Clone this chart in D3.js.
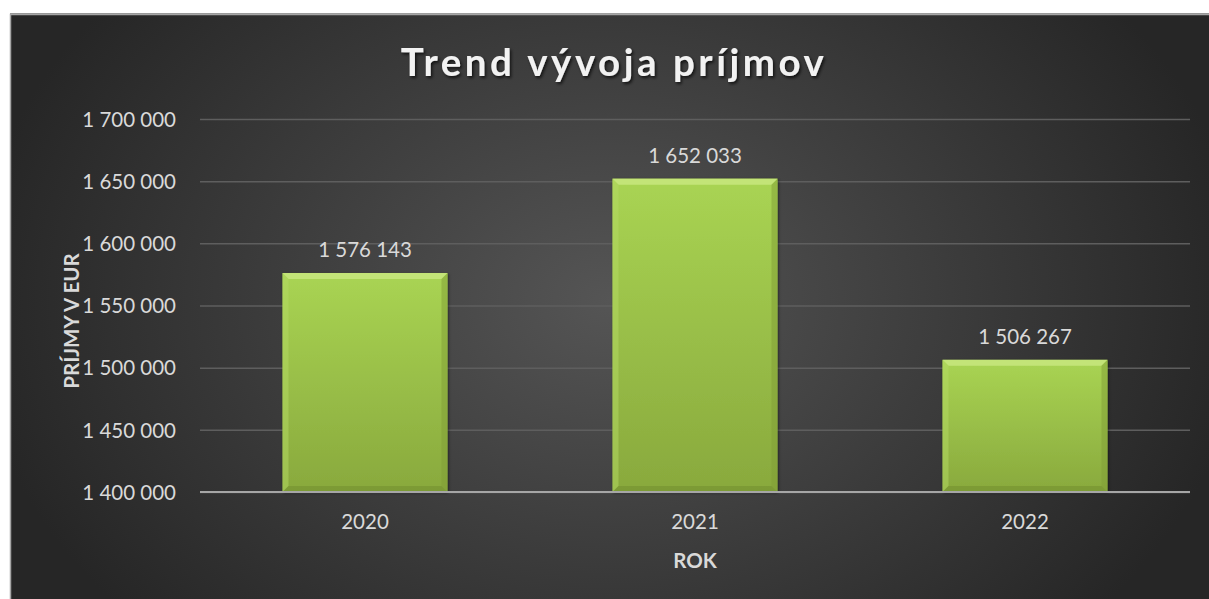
<!DOCTYPE html>
<html><head><meta charset="utf-8">
<script src="https://cdn.jsdelivr.net/npm/d3@7"></script>
<style>
html,body{margin:0;padding:0;background:#fff;}
svg{display:block;}
</style></head>
<body>
<svg id="chart" width="1209" height="599"></svg>
<script>
const categories = ["2020", "2021", "2022"];
const values = [1576143, 1652033, 1506267];
const yTicks = [1400000, 1450000, 1500000, 1550000, 1600000, 1650000, 1700000];
const title = "Trend vývoja príjmov";
const xTitle = "ROK";
const yTitle = "PRÍJMY V EUR";

const W = 1209, H = 599;
const svg = d3.select("#chart");
const defs = svg.append("defs");

const bg = defs.append("radialGradient").attr("id","bg")
  .attr("gradientUnits","userSpaceOnUse").attr("cx",610).attr("cy",300).attr("r",640)
  .attr("gradientTransform","translate(610,300) scale(1,0.75) translate(-610,-300)");
bg.append("stop").attr("offset","0").attr("stop-color","#555555");
bg.append("stop").attr("offset","1").attr("stop-color","#262626");

const bar = defs.append("linearGradient").attr("id","bar").attr("x1",0).attr("x2",0).attr("y1",0).attr("y2",1);
bar.append("stop").attr("offset","0").attr("stop-color","#a9d453");
bar.append("stop").attr("offset","1").attr("stop-color","#89a93d");

const sh = defs.append("filter").attr("id","tshadow").attr("x","-10%").attr("y","-30%").attr("width","120%").attr("height","160%");
sh.append("feDropShadow").attr("dx",1.5).attr("dy",2).attr("stdDeviation",1.5).attr("flood-color","#000").attr("flood-opacity",0.7);

const bsh = defs.append("filter").attr("id","bshadow").attr("x","-10%").attr("y","-10%").attr("width","120%").attr("height","120%");
bsh.append("feDropShadow").attr("dx",1).attr("dy",1).attr("stdDeviation",1.5).attr("flood-color","#000").attr("flood-opacity",0.5);

// frame
svg.append("rect").attr("x",10).attr("y",13.5).attr("width",W-10).attr("height",H-13.5)
  .attr("fill","url(#bg)");
svg.append("path").attr("d",`M10.5,${H} V14.5 H${W}`).attr("fill","none").attr("stroke","#a6a6a6").attr("stroke-width",1.5);

const m = {left:200, right:1190, top:119, bottom:492};
const x = d3.scaleBand().domain(categories).range([m.left, m.right]).paddingInner(0.5).paddingOuter(0.25);
const y = d3.scaleLinear().domain([1400000, 1700000]).range([m.bottom, m.top]);

const fmt = v => d3.format(",")(v).replace(/,/g, " ");
const font = "Lato, 'Open Sans', sans-serif";
const fs = "20.5px";

// grid
const yAxis = d3.axisLeft(y).tickValues(yTicks).tickSize(0).tickPadding(0).tickFormat(fmt);
const gy = svg.append("g").attr("transform",`translate(${m.left},0)`).call(yAxis);
gy.select(".domain").remove();
gy.selectAll(".tick line").remove();
gy.selectAll(".tick").append("line").attr("x1",0).attr("x2",m.right-m.left)
  .attr("stroke","#5e5e5e").attr("stroke-width",1.5);
gy.selectAll(".tick text").attr("x",-24).attr("dy","0.35em")
  .attr("fill","#d9d9d9").style("font-family",font).style("font-size",fs).attr("text-anchor","end");

// bars
const bw = x.bandwidth();
const bars = svg.append("g").selectAll("g").data(categories).join("g");
bars.append("rect")
  .attr("x",d=>x(d)).attr("y",(d,i)=>y(values[i]))
  .attr("width",bw).attr("height",(d,i)=>y(1400000)-y(values[i]))
  .attr("fill","url(#bar)").attr("filter","url(#bshadow)");
// bevel
const bv = 6;
bars.append("path").attr("d",(d,i)=>{const x0=x(d),y0=y(values[i]),x1=x0+bw;
  return `M${x0},${y0} H${x1} L${x1-bv},${y0+bv} H${x0+bv} Z`;}).attr("fill","#c8e67f").attr("opacity",0.85);
bars.append("path").attr("d",(d,i)=>{const x0=x(d),y0=y(values[i]),y1=y(1400000);
  return `M${x0},${y0} L${x0+bv},${y0+bv} V${y1-bv} L${x0},${y1} Z`;}).attr("fill","#b3d964").attr("opacity",0.5);
bars.append("path").attr("d",(d,i)=>{const x0=x(d),y0=y(values[i]),x1=x0+bw,y1=y(1400000);
  return `M${x1},${y0} L${x1-bv},${y0+bv} V${y1-bv} L${x1},${y1} Z`;}).attr("fill","#7f9e36").attr("opacity",0.5);
bars.append("path").attr("d",(d,i)=>{const x0=x(d),x1=x0+bw,y1=y(1400000);
  return `M${x0},${y1} L${x0+bv},${y1-bv} H${x1-bv} L${x1},${y1} Z`;}).attr("fill","#6f8c2e").attr("opacity",0.5);

// data labels
svg.append("g").selectAll("text").data(categories).join("text")
  .attr("x",d=>x(d)+bw/2).attr("y",(d,i)=>y(values[i])-16)
  .attr("text-anchor","middle").attr("fill","#d9d9d9")
  .style("font-family",font).style("font-size",fs).text((d,i)=>fmt(values[i]));

// x axis
const xAxis = d3.axisBottom(x).tickSize(0).tickPadding(0);
const gx = svg.append("g").attr("transform",`translate(0,${m.bottom})`).call(xAxis);
gx.select(".domain").remove();
gx.append("line").attr("x1",m.left).attr("x2",m.right).attr("stroke","#a6a6a6").attr("stroke-width",2);
gx.selectAll(".tick text").attr("y",37).attr("dy",0)
  .attr("fill","#d9d9d9").style("font-family",font).style("font-size",fs);

// titles
svg.append("text").attr("x",614).attr("y",76).attr("text-anchor","middle")
  .attr("fill","#f2f2f2").attr("filter","url(#tshadow)")
  .style("font-family",font).style("font-weight","bold").style("font-size","38.5px").style("letter-spacing","3.5px")
  .text(title);
svg.append("text").attr("x",695).attr("y",568).attr("text-anchor","middle")
  .attr("fill","#d9d9d9").style("font-family",font).style("font-weight","bold").style("font-size",fs)
  .text(xTitle);
svg.append("text").attr("transform","translate(79,321) rotate(-90)").attr("text-anchor","middle")
  .attr("fill","#d9d9d9").style("font-family",font).style("font-weight","bold").style("font-size",fs)
  .text(yTitle);
</script>
</body></html>
